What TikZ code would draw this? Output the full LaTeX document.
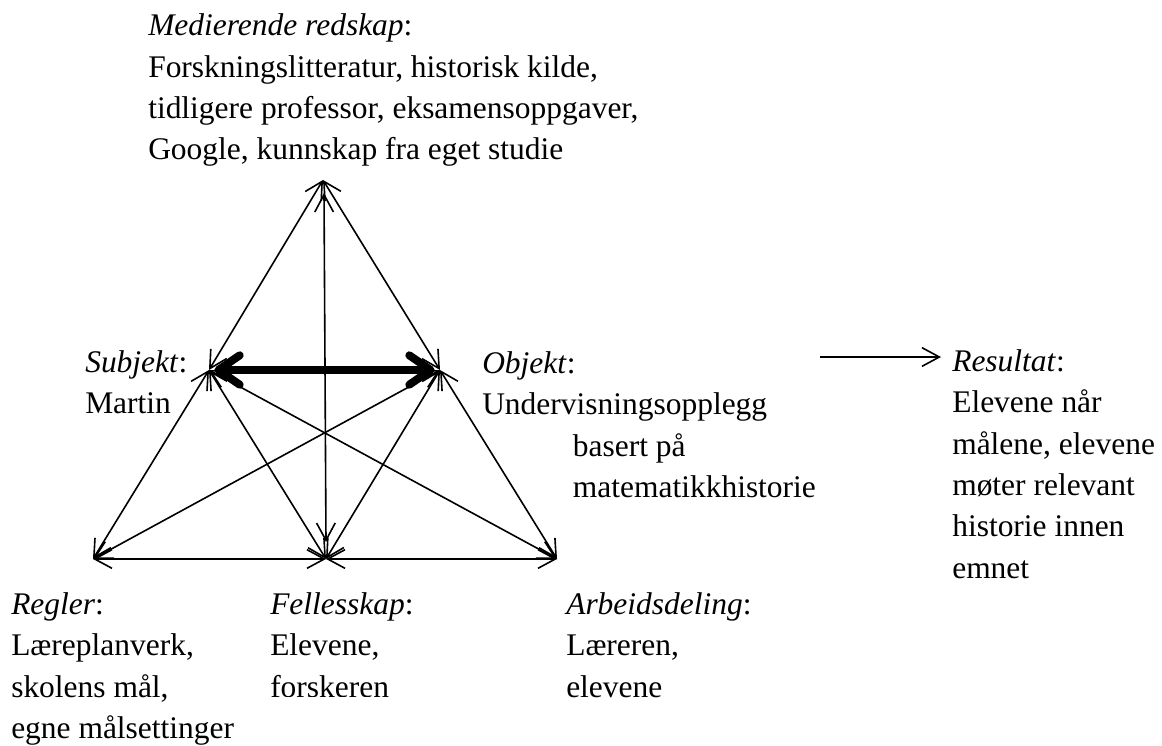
\documentclass[tikz,border=0pt]{standalone}
\usepackage{fontspec}
\setmainfont{Liberation Serif}
\usetikzlibrary{arrows.meta}
\begin{document}
\begin{tikzpicture}[x=0.75pt,y=-0.75pt,
  txt/.style={anchor=north west, inner sep=0pt, align=left, font=\fontsize{23.6}{31.1}\selectfont},
  link/.style={line width=1.2pt, {Straight Barb[length=13pt,width=14pt]}-{Straight Barb[length=13pt,width=14pt]}},
  thicklink/.style={line width=6pt, line cap=round, shorten <=4pt, shorten >=4pt,
     {Straight Barb[length=16pt,width=22pt,round]}-{Straight Barb[length=16pt,width=22pt,round]}},
  single/.style={line width=1.2pt, -{Straight Barb[length=13pt,width=14pt]}}]
\useasboundingbox (0,0) rectangle (1162,745);
% vertices
\coordinate (T) at (323,180);
\coordinate (S) at (209,370);
\coordinate (O) at (440,370);
\coordinate (BL) at (93,559);
\coordinate (BM) at (326,559);
\coordinate (BR) at (557,559);
\coordinate (Tv) at (324,193);
\coordinate (Bv) at (326,542);
% connectors
\draw[link] (S) -- (T);
\draw[link] (O) -- (T);
\draw[link] (Bv) -- (Tv);
\draw[link] (S) -- (BL);
\draw[link] (S) -- (BM);
\draw[link] (S) -- (BR);
\draw[link] (O) -- (BL);
\draw[link] (O) -- (BM);
\draw[link] (O) -- (BR);
\draw[link] (BL) -- (BM);
\draw[link] (BM) -- (BR);
\draw[thicklink] (S) -- (O);
% texts
\node[txt] (med) at (148,13.5) {\textit{Medierende redskap}:\\Forskningslitteratur, historisk kilde,\\tidligere professor, eksamensoppgaver,\\Google, kunnskap fra eget studie};
\node[txt] (subj) at (85,350) {\textit{Subjekt}:\\Martin};
\node[txt] (obj) at (482,351) {\textit{Objekt}:\\Undervisningsopplegg\\\hspace*{68pt}basert på\\\hspace*{68pt}matematikkhistorie};
\node[txt] (res) at (952,349) {\textit{Resultat}:\\Elevene når\\målene, elevene\\møter relevant\\historie innen\\emnet};
\node[txt] (reg) at (11,592) {\textit{Regler}:\\Læreplanverk,\\skolens mål,\\egne målsettinger};
\begin{scope}
\clip (260,570) rectangle (470,696);
\node[txt] (fel) at (270,592) {\textit{Fellesskap}:\\Elevene,\\forskeren};
\end{scope}
\node[txt] (arb) at (566,592) {\textit{Arbeidsdeling}:\\Læreren,\\elevene};
% result arrow
\coordinate (r1) at (820,357);
\coordinate (r2) at (941,357);
\draw[single] (r1) -- (r2);
\end{tikzpicture}
\end{document}
